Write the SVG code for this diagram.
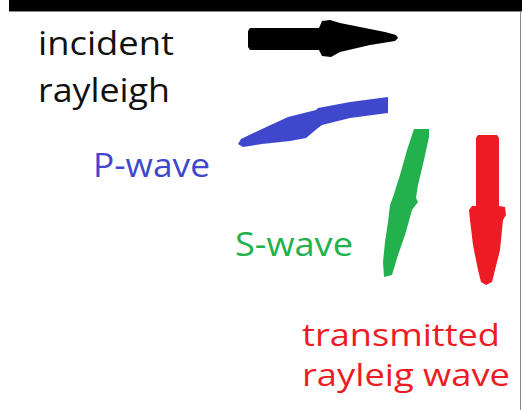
<svg xmlns="http://www.w3.org/2000/svg" width="522" height="410" viewBox="0 0 522 410">
  <style>
    .lbl { font-family: "Open Sans", "Liberation Sans", sans-serif; font-size: 33px; }
    .lbl-t { font-size: 31px; }
    .frame { stroke: #8c8c8c; stroke-width: 1; fill: none; }
  </style>
  <rect x="0" y="0" width="522" height="410" fill="#ffffff"/>

  <!-- surface line -->
  <g id="surface">
    <rect x="9" y="0" width="513" height="11" fill="#000000"/>
    <line class="frame" x1="9" y1="11.5" x2="522" y2="11.5"/>
    <line class="frame" x1="520.5" y1="11" x2="520.5" y2="410"/>
  </g>

  <!-- wave arrows -->
  <g id="arrows">
    <path id="arrow-incident" fill="#000000" d="M250,28 L319,28 L322,21 L330,20 L340,23 L360,27 L385,32 L396,35 L398,38 L395,41 L370,45 L340,52 L331,57 L322,56 L319,50 L250,50 L248,47 L248,31 Z"/>
    <path id="arrow-p" fill="#3f48cc" d="M388,97 L388,113 L350,118 L322,125 L318,128 L306,138 L290,141 L262,144 L243,147 L238,144 L241,139 L262,129 L288,117 L316,110 L318,108 L350,102 Z"/>
    <path id="arrow-s" fill="#22b14c" d="M414,129 L429,129 L429,137 L424,160 L418,185 L416,198 L418,202 L412,210 L405,235 L398,255 L392,275 L384,277 L383,262 L385,242 L388,222 L390,205 L393,197 L400,175 L407,150 Z"/>
    <path id="arrow-t" fill="#ed1c24" d="M478,135 L497,135 L499,138 L499,206 L505,207 L506,215 L503,220 L500,250 L495,270 L492,282 L486,285 L481,282 L478,270 L473,245 L470,220 L469,210 L472,206 L476,206 L476,138 Z"/>
  </g>

  <g id="label-incident">
    <text class="lbl" fill="#111111" x="38" y="55" textLength="136" lengthAdjust="spacingAndGlyphs">incident</text>
    <text class="lbl" fill="#111111" x="38" y="102" textLength="132" lengthAdjust="spacingAndGlyphs">rayleigh</text>
  </g>
  <g id="label-p">
    <text class="lbl" fill="#3f48cc" x="93" y="177" textLength="117" lengthAdjust="spacingAndGlyphs">P-wave</text>
  </g>
  <g id="label-s">
    <text class="lbl" fill="#22b14c" x="235" y="256" textLength="118" lengthAdjust="spacingAndGlyphs">S-wave</text>
  </g>
  <g id="label-t">
    <text class="lbl lbl-t" fill="#ed1c24" x="302" y="346" textLength="198" lengthAdjust="spacingAndGlyphs">transmitted</text>
    <text class="lbl lbl-t" fill="#ed1c24" x="302" y="386" textLength="208" lengthAdjust="spacingAndGlyphs">rayleig wave</text>
  </g>
</svg>
